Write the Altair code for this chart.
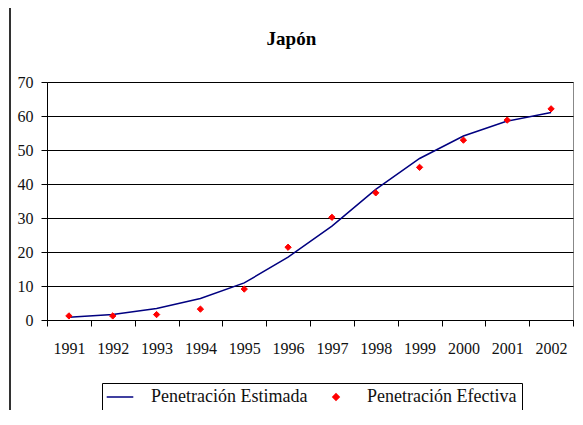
import altair as alt
import pandas as pd

years = ["1991", "1992", "1993", "1994", "1995", "1996", "1997", "1998", "1999", "2000", "2001", "2002"]
estimada = [0.8, 1.6, 3.4, 6.3, 10.9, 18.5, 27.6, 38.4, 47.5, 54.1, 58.5, 61.0]
efectiva = [1.2, 1.2, 1.6, 3.2, 9.1, 21.4, 30.2, 37.4, 44.9, 52.9, 58.8, 62.1]
series = ["Penetración Estimada", "Penetración Efectiva"]
colors = ["#000080", "#FF0000"]
y_ticks = [0, 10, 20, 30, 40, 50, 60, 70]

rows = []
for i, yr in enumerate(years):
    rows.append({"year": yr, "value": estimada[i], "serie": series[0]})
    rows.append({"year": yr, "value": efectiva[i], "serie": series[1]})
df = pd.DataFrame(rows)

FONT = "'Liberation Serif', 'Times New Roman', serif"

legend = alt.Legend(
    title=None,
    orient="none",
    legendX=55,
    legendY=301,
    direction="horizontal",
    strokeColor="#000",
    padding=5,
    symbolStrokeWidth=1.5,
    symbolOpacity=1,
    symbolOffset=4,
    labelFont=FONT,
    labelFontSize=18,
    labelColor="#111",
    labelOffset=22,
    columnPadding=15,
)

color = alt.Color("serie:N", scale=alt.Scale(domain=series, range=colors), legend=legend)
shape = alt.Shape("serie:N", scale=alt.Scale(domain=series, range=["M-1.9,0H1.9", "diamond"]), legend=legend)
size = alt.Size("serie:N", scale=alt.Scale(domain=series, range=[196, 40]), legend=legend)

x = alt.X(
    "year:O",
    sort=years,
    scale=alt.Scale(paddingInner=0, paddingOuter=0),
    axis=alt.Axis(
        title=None, labelAngle=0, tickBand="extent", grid=False,
        domainColor="#000", tickColor="#000", tickSize=6,
        labelPadding=14, labelFont=FONT, labelFontSize=16, labelColor="#111",
    ),
)
y = alt.Y(
    "value:Q",
    scale=alt.Scale(domain=[0, 70], nice=False),
    axis=alt.Axis(
        title=None, values=y_ticks, grid=True, gridColor="#000", gridWidth=1,
        domainColor="#000", tickColor="#000", tickSize=6, labelPadding=8,
        labelFont=FONT, labelFontSize=16, labelColor="#111",
    ),
)

base = alt.Chart(df)
line = base.transform_filter(f"datum.serie == '{series[0]}'").mark_line(strokeWidth=1.5).encode(
    x=x, y=y, color=color
)
pts = base.transform_filter(f"datum.serie == '{series[1]}'").mark_point(
    filled=False, fill="#FF0000", strokeWidth=1, opacity=1
).encode(x=x, y=y, color=color, shape=shape, size=size)

# chart-area border on the left (Excel frame)
frame = alt.Chart(df).mark_rule(color="#333", strokeWidth=1.5).encode(
    x=alt.value(-37), y=alt.value(-74), y2=alt.value(343)
)

chart = (
    alt.layer(line, pts, frame)
    .properties(
        width=526,
        height=238,
        title=alt.TitleParams("Japón", font=FONT, fontSize=19, fontWeight="bold",
                              anchor="middle", frame="bounds", offset=-42, color="#000"),
        padding={"left": 39, "top": 74, "right": 2, "bottom": 90},
        autosize=alt.AutoSizeParams(type="none"),
    )
    .configure_view(stroke="#888", strokeWidth=1)
)

chart.save("out.html", embed_options={"renderer": "svg", "actions": False})
